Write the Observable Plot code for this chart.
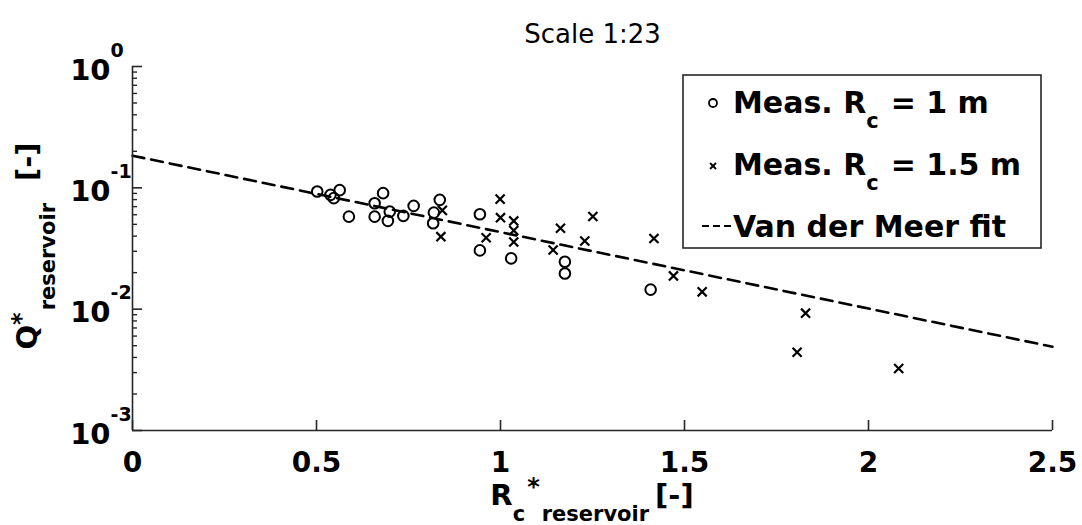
<!DOCTYPE html>
<html><head><meta charset="utf-8">
<script src="https://cdn.jsdelivr.net/npm/d3@7"></script>
<script src="https://cdn.jsdelivr.net/npm/@observablehq/plot@0.6"></script>
<style>body{margin:0;background:#fff;} svg{display:block;}</style>
</head><body><div id="chart"></div>
<script>
// ---- data ----
const circleX = [0.502, 0.538, 0.547, 0.563, 0.588, 0.658, 0.658, 0.681, 0.694, 0.699, 0.736, 0.764, 0.819, 0.817, 0.835, 0.944, 0.944, 1.029, 1.175, 1.175, 1.408];
const circleY = [0.0932, 0.0875, 0.0822, 0.0957, 0.0579, 0.0747, 0.0579, 0.0904, 0.0534, 0.0637, 0.0587, 0.0710, 0.0625, 0.0511, 0.0796, 0.0606, 0.0305, 0.0262, 0.0246, 0.0197, 0.0145];
const crossX = [0.842, 0.838, 0.961, 0.999, 1.000, 1.036, 1.036, 1.036, 1.143, 1.163, 1.229, 1.251, 1.417, 1.470, 1.548, 1.806, 1.829, 2.082];
const crossY = [0.0652, 0.0396, 0.0388, 0.0807, 0.0568, 0.0534, 0.0445, 0.0358, 0.0307, 0.0464, 0.0365, 0.0581, 0.0382, 0.0188, 0.0139, 0.00441, 0.00927, 0.00324];
const fitX = [0, 2.5];
const fitY = [0.184, 0.0049];
const xTicks = [0, 0.5, 1, 1.5, 2, 2.5];
const xTickLabels = ["0", "0.5", "1", "1.5", "2", "2.5"];
const yMajor = [1e-3, 1e-2, 1e-1, 1];
const yExponents = ["-3", "-2", "-1", "0"];
const minorMultipliers = [2, 3, 4, 5, 6, 7, 8, 9];
const legendLabels = ["Meas. R", "Meas. R", "Van der Meer fit"];
const legendValues = ["= 1 m", "= 1.5 m"];
const titleText = "Scale 1:23";

// ---- layout ----
const W = 1082, H = 525, mL = 132, mR = 30, mT = 66, mB = 95;
const fw = W - mL - mR, fh = H - mT - mB;
const FONT = "'DejaVu Sans', 'Liberation Sans', Arial, sans-serif";
const axisColor = "#262626";

const circles = circleX.map((x, i) => ({x, y: circleY[i]}));
const crosses = crossX.map((x, i) => ({x, y: crossY[i]}));
const fit = fitX.map((x, i) => ({x, y: fitY[i]}));
const yMinor = yMajor.slice(0, 3).flatMap(d => minorMultipliers.map(m => d * m));

const svg = Plot.plot({
  width: W, height: H,
  marginLeft: mL, marginRight: mR, marginTop: mT, marginBottom: mB,
  x: {domain: [0, 2.5], axis: null},
  y: {type: "log", domain: [1e-3, 1], axis: null},
  style: {fontFamily: FONT, background: "white", color: "black"},
  marks: [
    Plot.line(fit, {x: "x", y: "y", stroke: "black", strokeWidth: 2.6, strokeDasharray: "12,7"}),
    Plot.dot(circles, {x: "x", y: "y", r: 5.3, stroke: "black", strokeWidth: 2, fill: "none"}),
    Plot.dot(crosses, {x: "x", y: "y", symbol: "times", r: 4.2, stroke: "black", strokeWidth: 2.2}),
    Plot.ruleX([0], {stroke: axisColor, strokeWidth: 1.6}),
    Plot.ruleY([1e-3], {stroke: axisColor, strokeWidth: 1.6}),
    Plot.tickX(xTicks, {x: d => d, insetTop: fh - 10, stroke: axisColor, strokeWidth: 1.6}),
    Plot.tickY(yMajor, {y: d => d, insetRight: fw - 10, stroke: axisColor, strokeWidth: 1.6}),
    Plot.tickY(yMinor, {y: d => d, insetRight: fw - 5, stroke: axisColor, strokeWidth: 1.4}),
    Plot.text(xTicks, {x: d => d, text: (d, i) => xTickLabels[i], frameAnchor: "bottom", dy: 41, fontSize: 28, fontWeight: "bold", fill: "black"}),
    Plot.text(yMajor, {y: d => d, text: () => "10", frameAnchor: "left", textAnchor: "end", dx: -22, dy: 4, fontSize: 29, fontWeight: "bold", fill: "black"}),
    Plot.text(yMajor, {y: d => d, text: (d, i) => yExponents[i], frameAnchor: "left", textAnchor: "start", dx: -22, dy: -16, fontSize: 19, fontWeight: "bold", fill: "black"}),
    Plot.text([titleText], {frameAnchor: "top", dy: -42, fontSize: 26, fill: "black"})
  ]
});
document.getElementById("chart").appendChild(svg);

// ---- axis labels and legend (annotation) ----
const s = d3.select(svg);
// x label: R_c^*_reservoir [-]
const xl = s.append("text").attr("x", mL + fw / 2).attr("y", 505)
  .attr("text-anchor", "middle").attr("font-family", FONT).attr("font-weight", "bold")
  .attr("font-size", 29).attr("fill", "black");
xl.append("tspan").text("R");
xl.append("tspan").attr("font-size", 21).attr("dy", 16).text("c");
xl.append("tspan").attr("font-size", 24).attr("dy", -26).attr("dx", 2).text("*");
xl.append("tspan").attr("font-size", 21).attr("dy", 26).attr("dx", 2).text("reservoir");
xl.append("tspan").attr("dy", -16).attr("dx", 6).text("[-]");

// y label: Q^*_reservoir [-]
const yl = s.append("text").attr("transform", "translate(37,246) rotate(-90)")
  .attr("text-anchor", "middle").attr("font-family", FONT).attr("font-weight", "bold")
  .attr("font-size", 29).attr("fill", "black");
yl.append("tspan").text("Q");
yl.append("tspan").attr("font-size", 24).attr("dy", -8).text("*");
yl.append("tspan").attr("font-size", 21).attr("dy", 26).attr("dx", 2).text("reservoir");
yl.append("tspan").attr("dy", -18).attr("dx", 22).text("[-]");

// legend
const lg = s.append("g").attr("font-family", FONT).attr("font-weight", "bold").attr("fill", "black")
  .attr("text-anchor", "start");
lg.append("rect").attr("x", 683).attr("y", 75).attr("width", 358).attr("height", 173)
  .attr("fill", "white").attr("stroke", axisColor).attr("stroke-width", 1.6);
lg.append("circle").attr("cx", 713).attr("cy", 103).attr("r", 4).attr("fill", "none")
  .attr("stroke", "black").attr("stroke-width", 1.8);
const cr = lg.append("g").attr("transform", "translate(713,166)").attr("stroke", "black").attr("stroke-width", 1.8);
cr.append("line").attr("x1", -3).attr("y1", -3).attr("x2", 3).attr("y2", 3);
cr.append("line").attr("x1", -3).attr("y1", 3).attr("x2", 3).attr("y2", -3);
lg.append("line").attr("x1", 702).attr("x2", 731).attr("y1", 226).attr("y2", 226)
  .attr("stroke", "black").attr("stroke-width", 2).attr("stroke-dasharray", "7,4");
[113, 175].forEach((yy, i) => {
  const t = lg.append("text").attr("x", 733).attr("y", yy).attr("font-size", 30).attr("text-anchor", "start");
  t.append("tspan").text(legendLabels[i]);
  t.append("tspan").attr("font-size", 21).attr("dy", 15).text("c");
  t.append("tspan").attr("dy", -15).attr("dx", 12).text(legendValues[i]);
});
lg.append("text").attr("x", 733).attr("y", 237).attr("font-size", 30).attr("text-anchor", "start").text(legendLabels[2]);
</script>
</body></html>
